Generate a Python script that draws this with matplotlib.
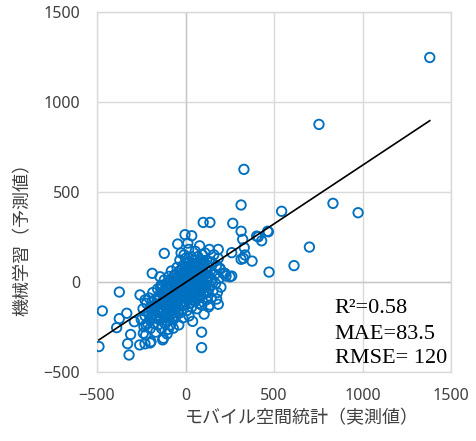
import matplotlib.pyplot as plt
import numpy as np

# dense core of the scatter (actual, predicted)
core_x = [-250, -240, -235, -228, -220, -215, -210, -205, -200, -198, -192, -188, -185, -180, -176,
          -172, -168, -165, -160, -158, -155, -150, -147, -145, -140, -138, -135, -132, -128, -125,
          -122, -120, -118, -115, -112, -110, -106, -104, -100, -98, -95, -93, -90, -88, -85,
          -82, -80, -78, -75, -72, -70, -68, -65, -62, -60, -58, -55, -52, -50, -48,
          -45, -42, -40, -38, -35, -32, -30, -28, -25, -22, -20, -18, -15, -12, -10,
          -8, -5, -3, 0, 2, 5, 8, 10, 12, 15, 18, 20, 22, 25, 28,
          30, 32, 35, 38, 40, 42, 45, 48, 50, 52, 55, 58, 60, 62, 65,
          68, 70, 72, 75, 78, 80, 82, 85, 88, 90, 92, 95, 98, 100, 102,
          105, 108, 110, 112, 115, 118, 120, 122, 125, 128, 130, 132, 135, 138, 140,
          145, 148, 150, 155, 160, 165, 170, 175, 180, 185, 190, 195, 200,
          -60, -40, -20, 0, 20, 40, 60, -70, -50, -30, -10, 10, 30, 50, 70,
          -90, -110, -130, -80, -100, 5, 25, 45, 65, 85, -15, -35, -55, -75, -95,
          15, 35, 55, 75, 95, 0, -25, 20, -140, -160,
          -150, -140, -130, -120, -110, -100, -90, -80, -70, -60, -50, -40, -30, -20, -10,
          0, 10, 20, 30, 40, 50, 60, 70, 80, 90, 100, 110, 120, -200, -190,
          -180, -170, -160, -150, -140, -130, -115, -105, -95, -85, -75, -65, -45, -35, -25,
          -15, -5, 5, 15, 25, 35, 45, 55, 65, 75, 85, 95, 105, 115, 125]
core_y = [-210, -150, -250, -190, -120, -230, -170, -90, -260, -140, -200, -110, -60, -230, -160,
          -100, -280, -190, -130, -40, -240, -170, -80, -210, -120, -20, -260, -150, -60, -190,
          -100, 10, -230, -140, -40, -170, -80, -290, -200, -120, 30, -20, -150, -60, -240,
          -100, 60, -180, -30, -130, 0, -210, -70, -160, 40, -110, -20, -190, -60, 80,
          -140, 10, -90, -240, -40, 120, -120, 30, -170, -10, 70, -80, -200, 50, -40,
          150, -130, 10, -60, 100, -20, -160, 60, -90, 20, 180, -50, 110, -120, 40,
          -10, 140, -70, 80, -220, 10, 120, -40, 60, -110, 170, 20, -60, 100, -150,
          40, 140, -20, 80, -90, 200, 0, 110, -50, 50, -130, 150, 10, -70, 90,
          -180, 40, 160, -30, 70, -100, 120, 0, -60, 90, -140, 30, 180, -20, 60,
          -90, 110, 10, -50, 150, 40, -10, 90, -60, 130, 20, 70, -30,
          -90, -20, -60, 0, 30, 50, 80, -50, -110, -70, -10, -30, 70, 20, 50,
          -100, -60, -110, -20, -30, 40, 90, -10, 10, 70, 90, 60, 20, -140, -190,
          -100, -140, -80, -120, -20, 130, 160, -190, -30, -200,
          -100, -60, -170, -80, -120, -90, -40, -160, -90, -130, -30, -170, -20, -130, -90,
          -110, 0, -80, 20, -100, 100, -10, 90, -40, 120, 30, -20, 60, -200, -150,
          -180, -130, -90, -210, -160, -20, -200, -10, -150, 10, -200, 30, -60, -100, 40,
          -30, 60, -70, 110, -10, 30, 90, -30, 60, 20, -80, 40, 110, -60, 30]

# scattered points away from the core
spread_x = [1380, 754, 330, 314, 543, 833, 975, 267, 314, 323, 402, 464, 430, 411, 468,
            332, 261, 336, 327, 314, 376, 700, 613, 472, 261, 229, 251, 195,
            -489, -470, -374, -389, -319, -327, -332, -374, -310, -259, -229, -200, -195, -225,
            -238, -223, -289, -257, -229, -125, -129, -97, -69, -188, -144, -120,
            -3, 35, -44, 13, 91, 91, 185, 185, 138, 176, 223, 214, 100, 138, 82, 101]
spread_y = [1247, 875, 625, 427, 392, 436, 384, 325, 281, 236, 254, 281, 228, 250, 278,
            190, 162, 149, 130, 125, 115, 193, 90, 54, 32, 32, 28, 75,
            -360, -162, -57, -255, -407, -344, -175, -205, -293, -351, -345, -340, -333, -296,
            -286, -240, -222, -73, -101, -314, -323, -264, -258, 47, 28, 158,
            262, 256, 210, 215, -280, -366, 180, -125, -129, -96, 47, 47, 330, 330, -55, -8]

# regression line of the predictions
slope = 0.652
intercept = -4.0

stats_lines = ['R\u00b2=0.58', 'MAE=83.5', 'RMSE= 120']
ticks = [-500, 0, 500, 1000, 1500]

blue = '#0070C0'
grid_grey = '#d9d9d9'

fig = plt.figure(figsize=(4.76, 4.41), dpi=100)
ax = fig.add_axes([0.2038, 0.1571, 0.7437, 0.8157])

x_all = np.array(core_x + spread_x)
y_all = np.array(core_y + spread_y)
ax.scatter(x_all, y_all, s=46, facecolors='none', edgecolors=blue, linewidths=1.35, zorder=3)

xl = np.array([x_all.min(), x_all.max()])
ax.plot(xl, slope * xl + intercept, color='black', lw=1.2, zorder=4)

ax.set_xlim(-500, 1500)
ax.set_ylim(-500, 1500)
ax.set_xticks(ticks)
ax.set_yticks(ticks)
ax.grid(True, color=grid_grey, lw=1.0, zorder=0)
ax.set_axisbelow(True)
for sp in ax.spines.values():
    sp.set_color(grid_grey)
    sp.set_linewidth(1.0)
ax.axvline(0, color='#c8c8c8', lw=1.0, zorder=1)
ax.axhline(0, color='#c8c8c8', lw=1.0, zorder=1)

ax.tick_params(length=0, labelsize=11.5, labelcolor='#404040', pad=12)
for lab in ax.get_xticklabels() + ax.get_yticklabels():
    lab.set_fontfamily('Noto Sans')

y_base = [-172, -318, -451]
for txt, yb in zip(stats_lines, y_base):
    ax.text(843, yb, txt, fontsize=16, family='Liberation Serif', va='baseline', ha='left',
            color='black', zorder=5)

jp_font = ['Noto Sans CJK JP', 'DejaVu Sans']
fig.text(302 / 476, 1 - 418 / 441, 'モバイル空間統計（実測値）', fontsize=13, family=jp_font,
         ha='center', va='center', color='#404040')
fig.text(23 / 476, 1 - 235 / 441, '機械学習（予測値）', fontsize=13, family=jp_font,
         ha='center', va='center', rotation=90, color='#404040')

fig.savefig('out.png', dpi=100)
